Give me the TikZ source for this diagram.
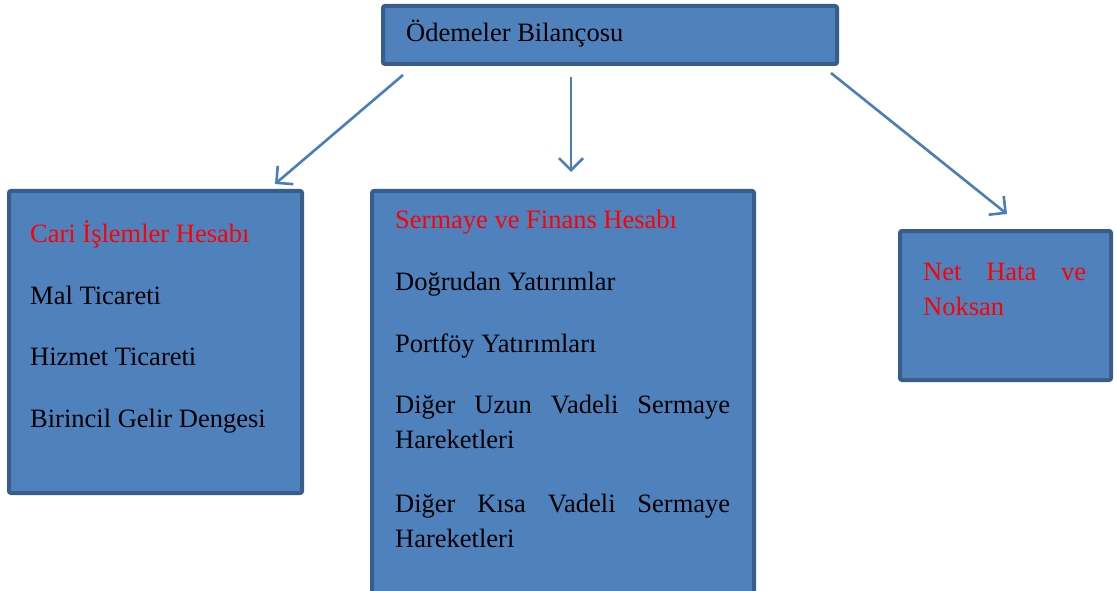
\documentclass[tikz,border=0pt]{standalone}
\usepackage{fontspec}
\setmainfont{Liberation Serif}
\usetikzlibrary{arrows.meta}
\definecolor{boxfill}{HTML}{4F81BD}
\definecolor{boxline}{HTML}{385D8A}
\definecolor{arrowc}{HTML}{4A7EBB}
\definecolor{redtxt}{HTML}{FF0000}
\begin{document}
\begin{tikzpicture}[x=1pt,y=-1pt,
  bluebox/.style={draw=boxline, fill=boxfill, line width=4pt, rounded corners=2pt,
    inner sep=0pt, anchor=north west},
  txt/.style={anchor=base west, inner sep=0pt, font=\fontsize{26.5}{35}\selectfont},
  redt/.style={txt, text=redtxt},
  conn/.style={draw=arrowc, line width=2.6pt, -{Straight Barb[length=12pt,width=24pt,line width=2.6pt]}}]
\clip (0,0) rectangle (1117,591);
\fill[white] (0,0) rectangle (1117,591);
% boxes
\node[bluebox, minimum width=454pt, minimum height=58pt] (top) at (381,4) {};
\node[bluebox, minimum width=293pt, minimum height=302pt] (left) at (7,189) {};
\node[bluebox, minimum width=382pt, minimum height=420pt] (mid) at (370,189) {};
\node[bluebox, minimum width=211pt, minimum height=149pt] (right) at (898,229) {};
% texts
\node[txt] (t0) at (406,42) {Ödemeler Bilançosu};
\node[redt] (l0) at (30,242) {Cari İşlemler Hesabı};
\node[txt] (l1) at (30,304) {Mal Ticareti};
\node[txt] (l2) at (30,365) {Hizmet Ticareti};
\node[txt] (l3) at (30,427) {Birincil Gelir Dengesi};
\node[redt] (m0) at (395,228) {Sermaye ve Finans Hesabı};
\node[txt] (m1) at (395,290) {Doğrudan Yatırımlar};
\node[txt] (m2) at (395,352) {Portföy Yatırımları};
\node[txt] (m3) at (395,413) {\makebox[335pt][s]{Diğer Uzun Vadeli Sermaye}};
\node[txt] (m4) at (395,448) {Hareketleri};
\node[txt] (m5) at (395,512) {\makebox[335pt][s]{Diğer Kısa Vadeli Sermaye}};
\node[txt] (m6) at (395,547) {Hareketleri};
\node[redt] (r0) at (923,280) {\makebox[163pt][s]{Net Hata ve}};
\node[redt] (r1) at (923,315) {Noksan};
% connectors
\coordinate (a1s) at (403,75);
\coordinate (a1e) at (275,184);
\coordinate (a2s) at (571,77);
\coordinate (a2e) at (571,172);
\coordinate (a3s) at (831,73);
\coordinate (a3e) at (1007,214);
\draw[conn] (a1s) -- (a1e);
\draw[conn] (a2s) -- (a2e);
\draw[conn] (a3s) -- (a3e);
\end{tikzpicture}
\end{document}
